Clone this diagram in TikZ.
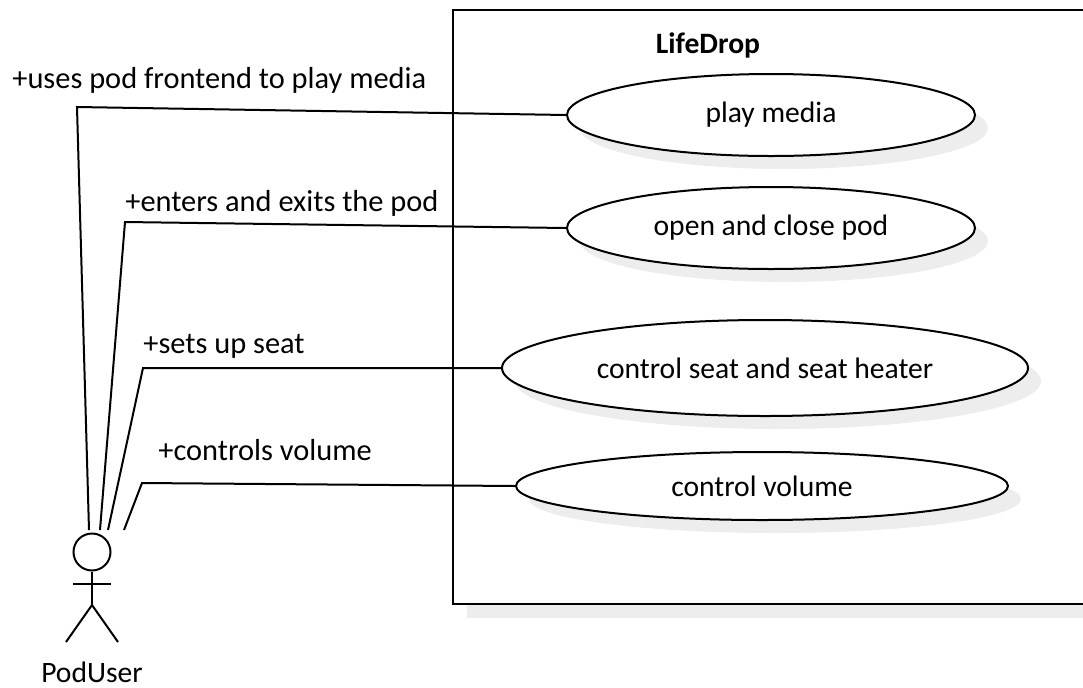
\documentclass[tikz,border=0pt]{standalone}
\usepackage{fontspec}
\setmainfont{Carlito}
\usetikzlibrary{shapes.geometric,shadows,positioning}

\begin{document}
\begin{tikzpicture}[
  x=0.5pt, y=-0.5pt,
  usecase/.style={ellipse, draw, line width=1pt, fill=white, inner sep=0pt,
    font=\fontsize{14.8}{17}\selectfont,
    drop shadow={shadow xshift=6.5pt, shadow yshift=-6.5pt, fill=black!7, opacity=1}},
  assoc/.style={line width=1pt},
  rolelbl/.style={anchor=base west, inner sep=0pt, font=\fontsize{15.2}{18}\selectfont},
  stick/.style={line width=1pt}
]
  \useasboundingbox (0,0) rectangle (1083,687);

  % system boundary
  \fill[black!7] (467,604) rectangle (1083,618);
  \draw[line width=1pt] (1083,10) -- (453,10) -- (453,604) -- (1083,604);
  \node[anchor=base, inner sep=0pt, font=\fontsize{14.8}{17}\selectfont\bfseries] (sysname)
    at (708,53) {LifeDrop};

  % use cases
  \node[usecase, minimum width=204pt, minimum height=41pt] (play) at (771,115) {play media};
  \node[usecase, minimum width=204pt, minimum height=41pt] (pod) at (771,228) {open and close pod};
  \node[usecase, minimum width=263pt, minimum height=48pt] (seat) at (765,368) {control seat and seat heater};
  \node[usecase, minimum width=246pt, minimum height=34pt] (volume) at (762,486) {control volume};

  % actor
  \node[circle, draw, line width=1pt, minimum size=18.5pt, inner sep=0pt] (head) at (92,552) {};
  \coordinate (hip) at (92,605);
  \coordinate (lhand) at (73,584);
  \coordinate (rhand) at (111,584);
  \coordinate (lfoot) at (66,642);
  \coordinate (rfoot) at (118,642);
  \draw[stick] (head.south) -- (hip);
  \draw[stick] (lhand) -- (rhand);
  \draw[stick] (lfoot) -- (hip) -- (rfoot);
  \node[anchor=base, inner sep=0pt, font=\fontsize{14.8}{17}\selectfont] (poduser) at (92,682) {PodUser};

  % associations
  \coordinate (e1) at (89,530);
  \coordinate (e2) at (100,530);
  \coordinate (e3) at (108,530);
  \coordinate (e4) at (124,530);
  \coordinate (b1) at (77,107);
  \coordinate (b2) at (125,222);
  \coordinate (b3) at (143,368);
  \coordinate (b4) at (142,483);
  \draw[assoc] (e1) -- (b1) -- (play.west);
  \draw[assoc] (e2) -- (b2) -- (pod.west);
  \draw[assoc] (e3) -- (b3) -- (seat.west);
  \draw[assoc] (e4) -- (b4) -- (volume.west);

  \node[rolelbl] (r1) at (12,88) {+uses pod frontend to play media};
  \node[rolelbl] (r2) at (125,211) {+enters and exits the pod};
  \node[rolelbl] (r3) at (143,353) {+sets up seat};
  \node[rolelbl] (r4) at (158,460) {+controls volume};
\end{tikzpicture}
\end{document}
